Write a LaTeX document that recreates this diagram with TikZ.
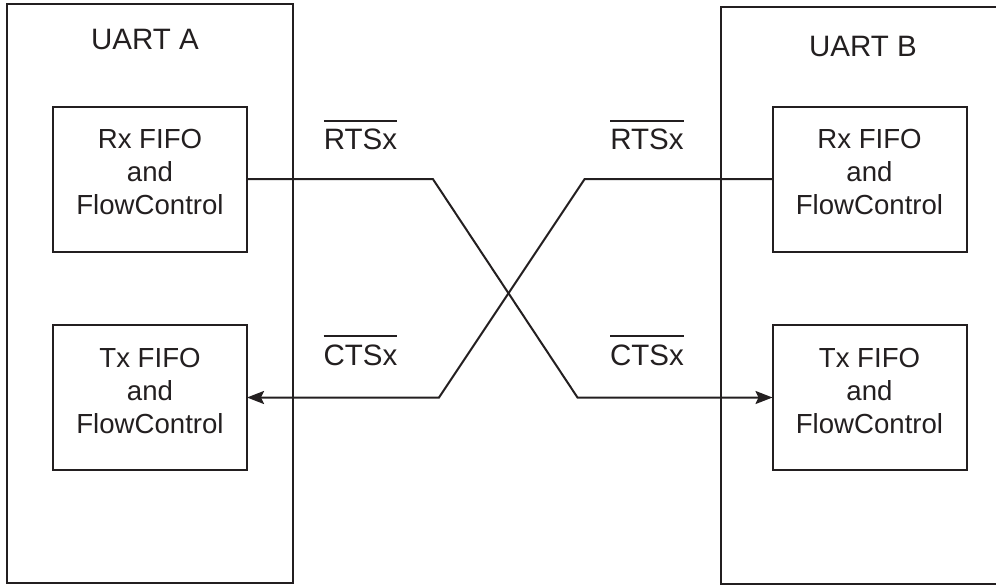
\documentclass[tikz,border=0pt]{standalone}
\usepackage{fontspec}
\setmainfont{Liberation Sans}
\usetikzlibrary{arrows.meta}
\definecolor{ink}{HTML}{231F20}
\newcommand{\myovl}[1]{\leavevmode\vbox{\hrule height 2bp \kern 7bp \hbox{#1}}}
\begin{document}
\begin{tikzpicture}[x=1bp,y=-1bp,
  every node/.style={inner sep=0pt,outer sep=0pt,text=ink},
  uart/.style={draw=ink,line width=2bp,rectangle},
  fifo/.style={draw=ink,line width=2bp,rectangle,minimum width=194bp,minimum height=145bp},
  fifotext/.style={align=center,font=\fontsize{27.6bp}{33bp}\selectfont},
  title/.style={anchor=base,font=\fontsize{29.5bp}{33bp}\selectfont},
  sig/.style={draw=ink,line width=2bp,line join=miter},
  tip/.style={-{Stealth[length=17bp,width=13bp,inset=3bp]}}]
\useasboundingbox (0,0) rectangle (996,585);
% outer UART boxes
\node[uart,minimum width=286bp,minimum height=579bp] (uartA) at (150,293.5) {};
\node[uart,minimum width=290bp,minimum height=577bp] (uartB) at (866,295.5) {};
\node[title] (titleA) at (145,50) {UART A};
\node[title] (titleB) at (863,57) {UART B};
% FIFO boxes
\node[fifo] (rxA) at (150,179.2) {};
\node[fifo] (txA) at (150,397.5) {};
\node[fifo] (rxB) at (869.5,179.2) {};
\node[fifo] (txB) at (869.5,397.5) {};
\node[fifotext] (rxAt) at ([yshift=7bp]rxA.center) {Rx FIFO\\and\\FlowControl};
\node[fifotext] (txAt) at ([yshift=7bp]txA.center) {Tx FIFO\\and\\FlowControl};
\node[fifotext] (rxBt) at ([yshift=7bp]rxB.center) {Rx FIFO\\and\\FlowControl};
\node[fifotext] (txBt) at ([yshift=7bp]txB.center) {Tx FIFO\\and\\FlowControl};
% signal labels
\node[title] (rtsA) at (360.5,150) {\myovl{RTSx}};
\node[title] (rtsB) at (647,150) {\myovl{RTSx}};
\node[title] (ctsA) at (360.5,365) {\myovl{CTSx}};
\node[title] (ctsB) at (647,365) {\myovl{CTSx}};
% crossed connections
\draw[sig,tip] (rxA.east) -- ([xshift=186bp]rxA.east) -- ([xshift=-195bp]txB.west) -- (txB.west);
\draw[sig,tip] (rxB.west) -- ([xshift=-188bp]rxB.west) -- ([xshift=192bp]txA.east) -- (txA.east);
\end{tikzpicture}
\end{document}
